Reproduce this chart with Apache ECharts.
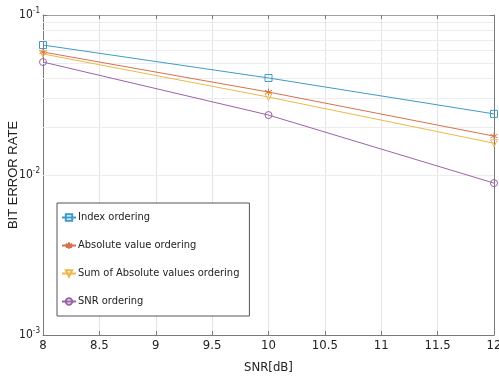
<!DOCTYPE html>
<html>
<head>
<meta charset="utf-8">
<script src="https://cdn.jsdelivr.net/npm/echarts@6/dist/echarts.min.js"></script>
<style>
  html, body { margin: 0; padding: 0; background: #fff; }
  #chart { width: 499px; height: 379px; }
</style>
</head>
<body>
<div id="chart"></div>
<script>
// SNR in dB
const snr = [8, 10, 12];
const indexOrdering = [0.0649, 0.0404, 0.0241];
const absValueOrdering = [0.0587, 0.0330, 0.0175];
const sumAbsOrdering = [0.0571, 0.0307, 0.0158];
const snrOrdering = [0.0508, 0.0237, 0.0089];
const minorLines = [0.002, 0.003, 0.004, 0.005, 0.006, 0.007, 0.008, 0.009,
  0.02, 0.03, 0.04, 0.05, 0.06, 0.07, 0.08, 0.09];

const font = "'Liberation Sans Narrow', 'DejaVu Sans Condensed', 'Liberation Sans', sans-serif";
const axisGray = "#7a7a7a";

const chart = echarts.init(document.getElementById("chart"));

function pairs(ys) {
  return snr.map((x, i) => [x, ys[i]]);
}

function makeSeries(name, data, color, symbol) {
  return {
    name: name,
    type: "line",
    data: pairs(data),
    symbol: symbol,
    symbolSize: 7,
    lineStyle: { color: color, width: 1 },
    itemStyle: { color: "rgba(255,255,255,0)", borderColor: color, borderWidth: 1 },
    emphasis: { disabled: true },
    z: 3
  };
}

const series = [
  makeSeries("Index ordering", indexOrdering, "#3d9bc9", "rect"),
  makeSeries("Absolute value ordering", absValueOrdering, "#d9704e",
    "path://M0,-5L0,5M-4.33,-2.5L4.33,2.5M-4.33,2.5L4.33,-2.5"),
  makeSeries("Sum of Absolute values ordering", sumAbsOrdering, "#ecb84a",
    "path://M-5,-4L5,-4L0,5Z"),
  makeSeries("SNR ordering", snrOrdering, "#9a63a8", "circle")
];
// light minor grid lines of the log axis
series[0].markLine = {
  silent: true,
  symbol: "none",
  label: { show: false },
  lineStyle: { color: "#ececec", type: "solid", width: 1 },
  data: minorLines.map(v => ({ yAxis: v })),
  z: 1
};

const supLabel = v => {
  const e = Math.round(Math.log10(v));
  return "{b|10}{s|" + e + "}";
};

chart.setOption({
  animation: false,
  grid: { left: 43, right: 5, top: 15, bottom: 44, outerBoundsMode: "none", containLabel: false },
  legend: {
    orient: "vertical",
    left: 57,
    top: 203,
    padding: [9, 10, 9, 4],
    itemGap: 17,
    itemWidth: 14,
    itemHeight: 8,
    backgroundColor: "#fff",
    borderColor: "#555",
    borderWidth: 1,
    textStyle: { fontFamily: font, fontSize: 11, color: "#222", padding: [0, 0, 0, -3] },
    data: series.map(s => s.name)
  },
  xAxis: [
    {
      type: "value",
      min: 8,
      max: 12,
      interval: 0.5,
      name: "SNR[dB]",
      nameLocation: "middle",
      nameGap: 26,
      nameTextStyle: { fontFamily: font, fontSize: 13, color: "#222" },
      axisLine: { lineStyle: { color: axisGray } },
      axisTick: { inside: true, length: 4, lineStyle: { color: axisGray } },
      axisLabel: { fontFamily: font, fontSize: 13, color: "#222", margin: 4 },
      splitLine: { show: true, lineStyle: { color: "#e4e4e4" } }
    },
    {
      type: "value",
      position: "top",
      min: 8,
      max: 12,
      interval: 0.5,
      axisLine: { show: true, lineStyle: { color: "#a0a0a0" } },
      axisTick: { inside: true, length: 4, lineStyle: { color: axisGray } },
      axisLabel: { show: false },
      splitLine: { show: false }
    }
  ],
  yAxis: [
    {
      type: "log",
      logBase: 10,
      min: 0.001,
      max: 0.1,
      name: "BIT ERROR RATE",
      nameLocation: "middle",
      nameGap: 23,
      nameMoveOverlap: false,
      nameTextStyle: { fontFamily: "'Liberation Sans', sans-serif", fontSize: 13, color: "#222" },
      axisLine: { show: true, lineStyle: { color: axisGray } },
      axisTick: { inside: true, length: 4, lineStyle: { color: axisGray } },
      axisLabel: {
        margin: 3,
        formatter: supLabel,
        rich: {
          b: { fontFamily: font, fontSize: 12, color: "#222" },
          s: { fontFamily: font, fontSize: 8, color: "#222", verticalAlign: "top", padding: [0, 0, 8, 0] }
        }
      },
      splitLine: { show: true, lineStyle: { color: "#e4e4e4" } }
    },
    {
      type: "log",
      logBase: 10,
      min: 0.001,
      max: 0.1,
      position: "right",
      axisLine: { show: true, lineStyle: { color: axisGray } },
      axisTick: { inside: true, length: 4, lineStyle: { color: axisGray } },
      axisLabel: { show: false },
      splitLine: { show: false }
    }
  ],
  series: series
});
</script>
</body>
</html>
